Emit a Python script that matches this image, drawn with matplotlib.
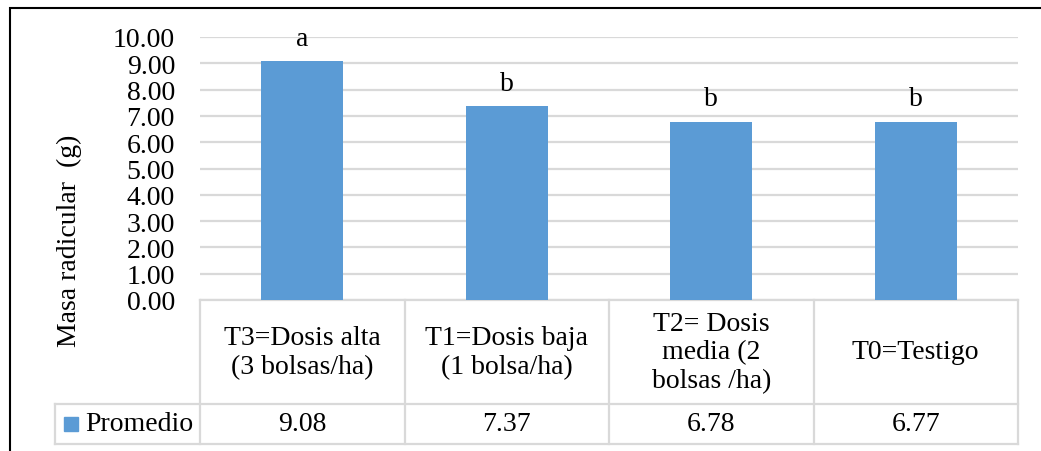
import numpy as np
import matplotlib.pyplot as plt
from matplotlib.patches import Rectangle
from matplotlib.ticker import FormatStrFormatter

plt.rcParams['font.family'] = ['Liberation Serif', 'DejaVu Serif']

tratamientos = ["T3=Dosis alta\n(3 bolsas/ha)", "T1=Dosis baja\n(1 bolsa/ha)",
                "T2= Dosis\nmedia (2\nbolsas /ha)", "T0=Testigo"]
promedio = [9.08, 7.37, 6.78, 6.77]
valores_txt = ["9.08", "7.37", "6.78", "6.77"]
letras = ["a", "b", "b", "b"]

W, H = 1041, 452
fs = 20
fig = plt.figure(figsize=(W / 100, H / 100), dpi=100)
ax = fig.add_axes([200 / W, 1 - 301 / H, 818 / W, 263 / H])

azul = '#5B9BD5'
gris = '#d9d9d9'
x = np.arange(len(promedio))
barras = ax.bar(x, promedio, width=0.4, color=azul, zorder=3)
for b, l in zip(barras, letras):
    ax.annotate(l, (b.get_x() + b.get_width() / 2, b.get_height()),
                xytext=(0, 12), textcoords='offset points',
                ha='center', va='baseline', fontsize=fs)

ax.set_xlim(-0.5, 3.5)
ax.set_ylim(0, 10)
ax.set_yticks(np.arange(0, 11, 1))
ax.yaxis.set_major_formatter(FormatStrFormatter('%.2f'))
ax.tick_params(axis='y', length=0, pad=18, labelsize=fs)
ax.set_xticks([])
ax.yaxis.grid(True, color=gris, lw=1.6)
ax.set_axisbelow(True)
for s in ax.spines.values():
    s.set_visible(False)

# tabla de datos debajo del eje
tr = ax.get_xaxis_transform()
y_cab = -(405 - 301) / 263
y_fin = -(445 - 301) / 263
x_leg = -0.5 - 145 / 818 * 4
kw = dict(color=gris, lw=1.6, transform=tr, clip_on=False)
ax.plot([-0.5, 3.5], [0, 0], **kw)
ax.plot([x_leg, 3.5], [y_cab, y_cab], **kw)
ax.plot([x_leg, 3.5], [y_fin, y_fin], **kw)
for xv in np.arange(-0.5, 4, 1):
    ax.plot([xv, xv], [0, y_fin], **kw)
ax.plot([x_leg, x_leg], [y_cab, y_fin], **kw)

for i, (t, v) in enumerate(zip(tratamientos, valores_txt)):
    ax.text(i, y_cab / 2, t, transform=tr, ha='center', va='center',
            fontsize=fs, linespacing=1.2)
    ax.text(i, (y_cab + y_fin) / 2, v, transform=tr, ha='center',
            va='center', fontsize=fs)

ax.plot([-0.5 - 129.5 / 818 * 4], [(y_cab + y_fin) / 2], marker='s',
        markersize=10.5, color=azul, transform=tr, clip_on=False)
ax.text(-0.5 - 115 / 818 * 4, (y_cab + y_fin) / 2, "Promedio", transform=tr,
        ha='left', va='center', fontsize=fs)

fig.text(69 / W, 1 - 241 / H, "Masa radicular  (g)", rotation=90,
         ha='center', va='center', fontsize=fs)

fig.add_artist(Rectangle((10 / W, -0.1), 1.2, 1 - 9 / H + 0.1,
                         transform=fig.transFigure, fill=False,
                         edgecolor='black', lw=1.5))

fig.savefig('out.png', dpi=100)
